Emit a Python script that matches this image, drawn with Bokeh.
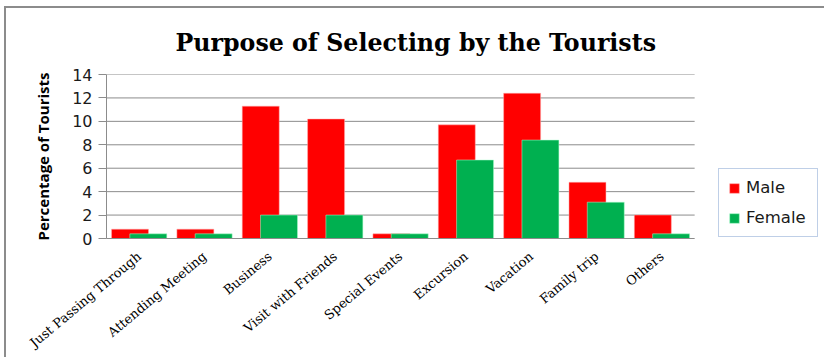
from bokeh.plotting import figure
from bokeh.models import ColumnDataSource, Range1d, Legend, LegendItem, FixedTicker
from bokeh.transform import dodge
from bokeh.embed import file_html
from bokeh.resources import INLINE
from math import radians

categories = ["Just Passing Through", "Attending Meeting", "Business", "Visit with Friends",
              "Special Events", "Excursion", "Vacation", "Family trip", "Others"]
male = [0.8, 0.8, 11.3, 10.2, 0.4, 9.7, 12.4, 4.8, 2.0]
female = [0.4, 0.4, 2.0, 2.0, 0.4, 6.7, 8.4, 3.1, 0.4]
y_ticks = [0, 2, 4, 6, 8, 10, 12, 14]

pos = list(range(1, len(categories) + 1))
src = ColumnDataSource(data=dict(x=pos, cat=categories, male=male, female=female))

n = len(categories)
x_end = 0.5 + 716 / 65.35  # frame extends right to hold the legend

p = figure(x_range=Range1d(0.5, x_end), y_range=Range1d(0, 14),
           width=820, height=351, output_backend="svg", toolbar_location=None,
           min_border_left=100, min_border_right=4, min_border_top=66, min_border_bottom=121)
p.styles = {"margin-left": "4px", "margin-top": "6px",
            "border-left": "2px solid #8c8c8c", "border-top": "2px solid #8c8c8c"}

# horizontal gridlines, limited to the category area
p.segment(x0=0.5, x1=n + 0.5, y0=y_ticks, y1=y_ticks, line_color="#8c8c8c",
          line_width=1, level="underlay")

r_m = p.vbar(x=dodge("x", -0.14), top="male", width=0.566, source=src,
             fill_color="#FF0000", line_color="#ffb0b0", line_width=0.5)
r_f = p.vbar(x=dodge("x", 0.14), top="female", width=0.566, source=src,
             fill_color="#00B050", line_color="#b0ffd0", line_width=0.5)

p.title.text = "Purpose of Selecting by the Tourists"
p.title.text_font = "DejaVu Serif"
p.title.text_font_size = "23.7px"
p.title.text_font_style = "bold"
p.title.align = "left"
p.title.offset = 69
p.title.standoff = 36
p.title.text_color = "#000000"

p.outline_line_color = None
p.xgrid.grid_line_color = None
p.ygrid.grid_line_color = None

p.yaxis.ticker = FixedTicker(ticks=y_ticks)
p.yaxis.axis_line_color = "#8c8c8c"
p.yaxis.major_tick_line_color = "#8c8c8c"
p.yaxis.major_tick_out = 8
p.yaxis.major_tick_in = 0
p.yaxis.minor_tick_line_color = None
p.yaxis.major_label_text_font = "DejaVu Sans"
p.yaxis.major_label_text_font_size = "16px"
p.yaxis.major_label_text_color = "#1a1a1a"
p.yaxis.major_label_standoff = 6
p.yaxis.axis_label = "Percentage of Tourists"
p.yaxis.axis_label_text_font = "Open Sans"
p.yaxis.axis_label_text_font_size = "15px"
p.yaxis.axis_label_text_font_style = "bold"
p.yaxis.axis_label_text_color = "#000000"
p.yaxis.axis_label_standoff = 16

p.xaxis.ticker = FixedTicker(ticks=pos)
p.xaxis.major_label_overrides = {k: c for k, c in zip(pos, categories)}
p.xaxis.bounds = (0.5, n + 0.5)
p.xaxis.axis_line_color = "#8c8c8c"
p.xaxis.major_tick_line_color = None
p.xaxis.minor_tick_line_color = None
p.xaxis.major_label_orientation = radians(40)
p.xaxis.major_label_text_font = "DejaVu Serif"
p.xaxis.major_label_text_font_size = "13px"
p.xaxis.major_label_text_color = "#000000"
p.xaxis.major_label_standoff = 10

legend = Legend(items=[LegendItem(label="Male", renderers=[r_m]),
                       LegendItem(label="Female", renderers=[r_f])],
                location=(612, 1))
legend.border_line_color = "#7f9fd0"
legend.border_line_width = 1.5
legend.label_text_font = "DejaVu Sans"
legend.label_text_font_size = "16.5px"
legend.label_text_color = "#1a1a1a"
legend.glyph_width = 12
legend.glyph_height = 12
legend.label_standoff = 6
legend.label_height = 19
legend.label_width = 62
legend.spacing = 11
legend.padding = 9
legend.margin = 0
p.add_layout(legend, "center")

open("out.html", "w").write(file_html(p, INLINE))
